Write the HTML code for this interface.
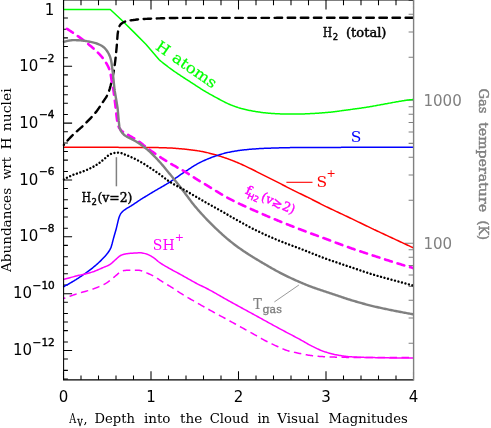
<!DOCTYPE html>
<html><head><meta charset="utf-8"><title>Abundances vs depth</title>
<style>
html,body{margin:0;padding:0;background:#fff;}
svg{display:block;}
text{font-family:"DejaVu Serif","Liberation Serif",serif;}
.d{font-family:"DejaVu Sans","Liberation Sans",sans-serif;}
</style></head><body>
<svg width="491" height="428" viewBox="0 0 491 428">
<rect width="491" height="428" fill="#fff"/>
<clipPath id="cp"><rect x="62.6" y="-0.05" width="351.0" height="379.90000000000003"/></clipPath>
<path d="M63.50 379.85 V371.35 M63.50 -0.05 V9.50 M81.00 379.85 V375.55 M81.00 -0.05 V5.30 M98.50 379.85 V375.55 M98.50 -0.05 V5.30 M116.00 379.85 V375.55 M116.00 -0.05 V5.30 M133.50 379.85 V375.55 M133.50 -0.05 V5.30 M151.00 379.85 V371.35 M151.00 -0.05 V9.50 M168.50 379.85 V375.55 M168.50 -0.05 V5.30 M186.00 379.85 V375.55 M186.00 -0.05 V5.30 M203.50 379.85 V375.55 M203.50 -0.05 V5.30 M221.00 379.85 V375.55 M221.00 -0.05 V5.30 M238.50 379.85 V371.35 M238.50 -0.05 V9.50 M256.00 379.85 V375.55 M256.00 -0.05 V5.30 M273.50 379.85 V375.55 M273.50 -0.05 V5.30 M291.00 379.85 V375.55 M291.00 -0.05 V5.30 M308.50 379.85 V375.55 M308.50 -0.05 V5.30 M326.00 379.85 V371.35 M326.00 -0.05 V9.50 M343.50 379.85 V375.55 M343.50 -0.05 V5.30 M361.00 379.85 V375.55 M361.00 -0.05 V5.30 M378.50 379.85 V375.55 M378.50 -0.05 V5.30 M396.00 379.85 V375.55 M396.00 -0.05 V5.30 M413.50 379.85 V371.35 M413.50 -0.05 V9.50 M63.6 9.45 H72.10 M63.6 18.01 H67.90 M63.6 29.31 H67.90 M63.6 37.87 H67.90 M63.6 46.43 H67.90 M63.6 57.73 H67.90 M63.6 66.29 H72.10 M63.6 74.85 H67.90 M63.6 86.15 H67.90 M63.6 94.71 H67.90 M63.6 103.27 H67.90 M63.6 114.57 H67.90 M63.6 123.13 H72.10 M63.6 131.69 H67.90 M63.6 142.99 H67.90 M63.6 151.55 H67.90 M63.6 160.11 H67.90 M63.6 171.41 H67.90 M63.6 179.97 H72.10 M63.6 188.53 H67.90 M63.6 199.83 H67.90 M63.6 208.39 H67.90 M63.6 216.95 H67.90 M63.6 228.25 H67.90 M63.6 236.81 H72.10 M63.6 245.37 H67.90 M63.6 256.67 H67.90 M63.6 265.23 H67.90 M63.6 273.79 H67.90 M63.6 285.09 H67.90 M63.6 293.65 H72.10 M63.6 302.21 H67.90 M63.6 313.51 H67.90 M63.6 322.07 H67.90 M63.6 330.63 H67.90 M63.6 341.93 H67.90 M63.6 350.49 H72.10 M63.6 359.05 H67.90 M63.6 370.35 H67.90 M63.6 378.91 H67.90" stroke="#000" stroke-width="1.05" fill="none"/>
<path d="M413.6 343.25 H408.60 M413.6 318.07 H408.60 M413.6 300.21 H408.60 M413.6 286.35 H408.60 M413.6 275.02 H408.60 M413.6 265.45 H408.60 M413.6 257.16 H408.60 M413.6 249.84 H408.60 M413.6 243.30 H404.40 M413.6 200.25 H408.60 M413.6 175.07 H408.60 M413.6 157.21 H408.60 M413.6 143.35 H408.60 M413.6 132.02 H408.60 M413.6 122.45 H408.60 M413.6 114.16 H408.60 M413.6 106.84 H408.60 M413.6 100.30 H404.40 M413.6 57.25 H408.60 M413.6 32.07 H408.60 M413.6 14.21 H408.60 M413.6 0.35 H408.60" stroke="#808080" stroke-width="1.05" fill="none"/>
<g clip-path="url(#cp)" fill="none" stroke-linejoin="round">
<path d="M63.00 9.45 L110.30 9.45 L120.50 19.00 L133.60 31.90 L145.90 44.20 L159.20 59.80 L159.20 59.80 L160.20 60.64 L161.20 61.46 L162.21 62.28 L163.21 63.09 L164.21 63.88 L165.21 64.67 L166.21 65.45 L167.22 66.22 L168.22 66.98 L169.22 67.73 L170.22 68.47 L170.40 68.60 L171.22 69.20 L172.23 69.91 L173.23 70.62 L174.23 71.31 L175.23 72.00 L176.23 72.68 L177.24 73.35 L178.24 74.02 L179.24 74.69 L180.00 75.20 L180.24 75.36 L181.24 76.03 L182.25 76.69 L183.25 77.35 L184.25 78.00 L185.25 78.65 L186.25 79.30 L187.26 79.95 L188.26 80.60 L189.26 81.24 L190.26 81.89 L191.26 82.53 L192.26 83.18 L192.30 83.20 L193.27 83.83 L194.27 84.48 L195.27 85.13 L196.27 85.79 L197.27 86.44 L198.28 87.09 L199.28 87.74 L200.28 88.38 L201.28 89.02 L202.28 89.65 L203.29 90.27 L204.29 90.87 L204.50 91.00 L205.29 91.47 L206.29 92.06 L207.29 92.64 L208.30 93.22 L209.30 93.79 L210.30 94.35 L211.30 94.91 L212.30 95.46 L213.31 96.01 L214.31 96.56 L215.31 97.10 L216.31 97.64 L216.80 97.90 L217.31 98.18 L218.32 98.72 L219.32 99.27 L220.32 99.81 L221.32 100.36 L222.32 100.90 L223.33 101.43 L224.33 101.95 L225.33 102.46 L226.33 102.95 L227.33 103.42 L228.34 103.87 L229.10 104.20 L229.34 104.30 L230.34 104.71 L231.34 105.11 L232.34 105.51 L233.35 105.89 L234.35 106.27 L235.35 106.63 L236.35 106.98 L237.35 107.31 L238.36 107.64 L239.36 107.94 L240.36 108.24 L241.30 108.50 L241.36 108.52 L242.36 108.78 L243.37 109.04 L244.37 109.29 L245.37 109.53 L246.37 109.76 L247.37 109.99 L248.38 110.20 L249.38 110.41 L250.38 110.61 L251.38 110.80 L252.38 110.99 L253.39 111.16 L253.60 111.20 L254.39 111.33 L255.39 111.50 L256.39 111.66 L257.39 111.82 L258.39 111.97 L259.40 112.11 L260.40 112.25 L261.40 112.39 L262.40 112.52 L263.40 112.64 L264.41 112.75 L265.41 112.85 L265.90 112.90 L266.41 112.95 L267.41 113.04 L268.41 113.13 L269.42 113.22 L270.42 113.31 L271.42 113.39 L272.42 113.47 L273.42 113.54 L274.43 113.61 L275.43 113.67 L276.43 113.72 L277.43 113.77 L278.20 113.80 L278.43 113.81 L279.44 113.85 L280.44 113.88 L281.44 113.92 L282.44 113.95 L283.44 113.98 L284.45 114.01 L285.45 114.04 L286.45 114.06 L287.45 114.08 L288.45 114.09 L289.46 114.10 L290.40 114.10 L290.46 114.10 L291.46 114.10 L292.46 114.09 L293.46 114.09 L294.47 114.08 L295.47 114.07 L296.47 114.05 L297.47 114.04 L298.47 114.02 L299.48 114.01 L300.00 114.00 L300.48 113.99 L301.48 113.97 L302.48 113.95 L303.48 113.92 L304.49 113.89 L305.49 113.85 L306.49 113.81 L307.49 113.77 L308.49 113.72 L309.50 113.68 L310.50 113.62 L311.50 113.57 L312.50 113.51 L313.50 113.45 L314.51 113.39 L315.51 113.33 L316.51 113.27 L317.51 113.20 L318.51 113.13 L319.51 113.06 L320.52 112.99 L321.52 112.92 L322.52 112.85 L323.52 112.77 L324.50 112.70 L324.52 112.70 L325.53 112.62 L326.53 112.54 L327.53 112.45 L328.53 112.35 L329.53 112.25 L330.54 112.14 L331.54 112.03 L332.54 111.91 L333.54 111.79 L334.54 111.67 L335.55 111.54 L336.55 111.41 L337.55 111.27 L338.55 111.14 L339.55 111.00 L340.56 110.87 L341.56 110.73 L342.56 110.59 L343.56 110.45 L344.56 110.31 L345.57 110.17 L346.57 110.04 L347.57 109.90 L348.57 109.77 L349.10 109.70 L349.57 109.64 L350.58 109.51 L351.58 109.38 L352.58 109.24 L353.58 109.11 L354.58 108.98 L355.59 108.84 L356.59 108.71 L357.59 108.57 L358.59 108.43 L359.59 108.29 L360.60 108.15 L361.60 108.01 L362.60 107.86 L363.60 107.71 L364.60 107.56 L365.61 107.41 L366.30 107.30 L366.61 107.25 L367.61 107.09 L368.61 106.93 L369.61 106.76 L370.62 106.59 L371.62 106.41 L372.62 106.23 L373.62 106.05 L374.62 105.87 L375.63 105.69 L376.63 105.50 L377.63 105.31 L378.63 105.13 L379.63 104.94 L380.64 104.76 L381.64 104.57 L382.64 104.39 L383.64 104.20 L384.64 104.02 L385.64 103.84 L385.90 103.80 L386.65 103.67 L387.65 103.49 L388.65 103.31 L389.65 103.12 L390.65 102.94 L391.66 102.75 L392.66 102.57 L393.66 102.38 L394.66 102.20 L395.66 102.02 L396.67 101.84 L397.67 101.66 L398.67 101.48 L399.67 101.31 L400.67 101.14 L401.68 100.98 L402.68 100.82 L403.68 100.66 L404.68 100.52 L405.50 100.40 L405.68 100.37 L406.69 100.24 L407.69 100.11 L408.69 99.98 L409.69 99.85 L410.69 99.74 L411.70 99.62 L412.70 99.51 L413.70 99.40" stroke="#00ff00" stroke-width="1.5"/>
<path d="M63.00 147.30 L64.00 147.30 L65.00 147.30 L66.01 147.30 L67.01 147.30 L68.01 147.30 L69.01 147.30 L70.01 147.30 L71.02 147.30 L72.02 147.30 L73.02 147.30 L74.02 147.30 L75.02 147.30 L76.03 147.30 L77.03 147.30 L78.03 147.30 L79.03 147.31 L80.03 147.31 L81.04 147.31 L82.04 147.31 L83.04 147.31 L84.04 147.31 L85.04 147.31 L86.05 147.31 L87.05 147.31 L88.05 147.31 L89.05 147.32 L90.05 147.32 L91.06 147.32 L92.06 147.32 L93.06 147.32 L94.06 147.32 L95.06 147.32 L96.07 147.33 L97.07 147.33 L98.07 147.33 L99.07 147.33 L100.07 147.33 L101.08 147.33 L102.08 147.34 L103.08 147.34 L104.08 147.34 L105.08 147.34 L106.09 147.34 L107.09 147.35 L108.09 147.35 L109.09 147.35 L110.09 147.35 L111.10 147.36 L112.10 147.36 L113.10 147.36 L114.10 147.36 L115.10 147.37 L116.11 147.37 L117.11 147.37 L118.11 147.37 L119.11 147.38 L120.11 147.38 L121.12 147.38 L122.12 147.39 L123.12 147.39 L124.12 147.39 L125.12 147.40 L126.13 147.40 L127.13 147.40 L128.13 147.41 L129.13 147.41 L130.13 147.41 L131.14 147.42 L132.14 147.42 L133.14 147.42 L134.14 147.43 L135.14 147.43 L136.15 147.44 L137.15 147.44 L138.15 147.44 L139.15 147.45 L140.15 147.45 L141.16 147.46 L142.16 147.46 L143.16 147.47 L144.16 147.47 L145.16 147.48 L146.17 147.48 L147.17 147.49 L148.17 147.49 L149.17 147.50 L150.00 147.50 L150.17 147.50 L151.18 147.51 L152.18 147.52 L153.18 147.53 L154.18 147.54 L155.18 147.56 L156.19 147.58 L157.19 147.60 L158.19 147.62 L159.19 147.64 L160.19 147.67 L161.20 147.70 L162.20 147.73 L163.20 147.76 L164.20 147.79 L165.20 147.82 L166.21 147.86 L167.21 147.89 L168.21 147.93 L169.21 147.97 L170.00 148.00 L170.21 148.01 L171.22 148.05 L172.22 148.11 L173.22 148.17 L174.22 148.23 L175.22 148.30 L176.23 148.38 L177.23 148.46 L178.23 148.55 L179.23 148.64 L180.23 148.73 L181.24 148.83 L182.24 148.93 L183.24 149.02 L184.24 149.12 L185.00 149.20 L185.24 149.22 L186.25 149.33 L187.25 149.43 L188.25 149.54 L189.25 149.66 L190.25 149.77 L191.26 149.90 L192.26 150.02 L193.26 150.15 L194.26 150.29 L195.26 150.43 L196.27 150.57 L197.27 150.72 L198.27 150.88 L199.27 151.04 L200.27 151.21 L201.28 151.38 L201.40 151.40 L202.28 151.56 L203.28 151.75 L204.28 151.96 L205.28 152.18 L206.29 152.40 L207.29 152.64 L208.29 152.89 L209.29 153.15 L210.29 153.41 L211.30 153.68 L212.30 153.95 L213.30 154.23 L214.30 154.52 L215.30 154.80 L216.31 155.09 L217.31 155.39 L217.70 155.50 L218.31 155.68 L219.31 155.98 L220.31 156.29 L221.32 156.61 L222.32 156.93 L223.32 157.26 L224.32 157.60 L225.32 157.94 L226.33 158.29 L227.33 158.65 L228.33 159.01 L229.33 159.38 L230.33 159.75 L231.34 160.13 L232.34 160.51 L233.34 160.90 L234.10 161.20 L234.34 161.30 L235.34 161.70 L236.35 162.11 L237.35 162.53 L238.35 162.96 L239.35 163.40 L240.35 163.84 L241.36 164.29 L242.36 164.75 L243.36 165.21 L244.36 165.68 L245.36 166.15 L246.37 166.62 L247.37 167.10 L248.37 167.58 L249.37 168.06 L250.37 168.54 L250.50 168.60 L251.38 169.02 L252.38 169.52 L253.38 170.02 L254.38 170.53 L255.38 171.04 L256.39 171.56 L257.39 172.07 L258.39 172.58 L259.39 173.09 L260.00 173.40 L260.39 173.60 L261.40 174.10 L262.40 174.60 L263.40 175.10 L264.40 175.60 L265.40 176.10 L266.41 176.60 L267.41 177.10 L268.41 177.59 L269.41 178.09 L270.41 178.59 L271.42 179.09 L272.42 179.59 L273.42 180.10 L274.42 180.60 L275.42 181.11 L276.40 181.60 L276.43 181.61 L277.43 182.12 L278.43 182.64 L279.43 183.15 L280.43 183.67 L281.44 184.19 L282.44 184.71 L283.44 185.23 L284.44 185.76 L285.44 186.28 L286.45 186.80 L287.45 187.32 L288.45 187.84 L289.45 188.35 L290.45 188.86 L291.46 189.37 L292.46 189.88 L292.70 190.00 L293.46 190.38 L294.46 190.88 L295.46 191.37 L296.47 191.86 L297.47 192.35 L298.47 192.84 L299.47 193.32 L300.47 193.80 L301.48 194.29 L302.48 194.77 L303.48 195.25 L304.48 195.74 L305.48 196.22 L306.49 196.71 L307.49 197.20 L308.49 197.70 L309.10 198.00 L309.49 198.20 L310.49 198.70 L311.50 199.20 L312.50 199.71 L313.50 200.22 L314.50 200.73 L315.50 201.24 L316.51 201.76 L317.51 202.27 L318.51 202.78 L319.51 203.29 L320.51 203.81 L321.52 204.31 L322.52 204.82 L323.52 205.32 L324.52 205.82 L325.50 206.30 L325.52 206.31 L326.53 206.80 L327.53 207.29 L328.53 207.77 L329.53 208.25 L330.53 208.73 L331.54 209.20 L332.54 209.68 L333.54 210.15 L334.54 210.62 L335.54 211.10 L336.55 211.57 L337.55 212.04 L338.55 212.51 L339.55 212.99 L340.00 213.20 L340.55 213.46 L341.56 213.94 L342.56 214.41 L343.56 214.88 L344.56 215.35 L345.56 215.83 L346.57 216.30 L347.57 216.77 L348.57 217.25 L349.10 217.50 L349.57 217.72 L350.57 218.20 L351.58 218.68 L352.58 219.16 L353.58 219.65 L354.58 220.13 L355.58 220.61 L356.59 221.10 L357.59 221.58 L358.59 222.07 L359.59 222.55 L360.59 223.04 L361.60 223.53 L362.60 224.01 L363.60 224.50 L364.60 224.98 L365.60 225.47 L366.61 225.95 L367.61 226.43 L368.61 226.92 L369.61 227.40 L370.61 227.88 L371.62 228.36 L372.62 228.83 L373.60 229.30 L373.62 229.31 L374.62 229.78 L375.62 230.26 L376.63 230.73 L377.63 231.20 L378.63 231.67 L379.63 232.15 L380.63 232.62 L381.64 233.08 L382.64 233.55 L383.64 234.02 L384.64 234.49 L385.64 234.96 L386.65 235.42 L387.65 235.89 L388.65 236.36 L389.65 236.82 L390.65 237.29 L391.66 237.76 L392.66 238.22 L393.66 238.69 L394.66 239.15 L395.66 239.62 L396.67 240.09 L397.67 240.55 L398.20 240.80 L398.67 241.02 L399.67 241.49 L400.67 241.95 L401.68 242.42 L402.68 242.88 L403.68 243.35 L404.68 243.82 L405.68 244.28 L406.69 244.75 L407.69 245.21 L408.69 245.68 L409.69 246.14 L410.69 246.61 L411.70 247.07 L412.70 247.54 L413.70 248.00" stroke="#ff0000" stroke-width="1.5"/>
<path d="M63.00 287.00 L64.00 286.48 L65.00 285.95 L66.01 285.41 L67.01 284.86 L68.01 284.30 L69.01 283.74 L70.01 283.16 L71.02 282.58 L72.02 281.99 L73.02 281.39 L74.02 280.78 L75.02 280.16 L76.03 279.54 L76.40 279.30 L77.03 278.90 L78.03 278.26 L79.03 277.62 L80.03 276.96 L81.04 276.30 L82.04 275.63 L83.04 274.94 L84.04 274.25 L85.04 273.55 L86.05 272.84 L87.05 272.12 L88.05 271.38 L89.05 270.63 L90.05 269.87 L91.06 269.10 L92.06 268.31 L92.70 267.80 L93.06 267.51 L94.06 266.69 L95.06 265.85 L96.07 265.00 L97.07 264.12 L98.07 263.22 L99.07 262.29 L100.07 261.34 L101.08 260.35 L102.08 259.34 L102.60 258.80 L103.08 258.30 L104.08 257.24 L105.08 256.15 L106.09 255.00 L107.09 253.78 L108.09 252.46 L109.09 251.01 L109.10 251.00 L110.09 249.38 L110.90 247.70 L111.10 247.19 L112.10 243.76 L113.10 239.83 L113.30 239.10 L114.10 236.29 L115.10 232.81 L116.11 229.21 L116.40 228.10 L117.11 225.18 L118.11 220.86 L118.80 218.30 L119.11 217.30 L120.10 214.70 L120.11 214.67 L121.12 213.13 L122.12 211.98 L122.50 211.60 L123.12 211.03 L124.12 210.23 L125.12 209.53 L125.60 209.20 L126.13 208.85 L127.13 208.21 L128.13 207.61 L129.13 207.03 L130.13 206.45 L131.14 205.85 L131.70 205.50 L132.14 205.22 L133.14 204.56 L134.14 203.88 L135.14 203.20 L136.15 202.51 L137.15 201.83 L138.15 201.16 L139.00 200.60 L139.15 200.50 L140.15 199.86 L141.16 199.23 L142.16 198.60 L143.16 197.98 L144.16 197.36 L145.16 196.75 L146.17 196.14 L147.17 195.53 L148.17 194.93 L149.17 194.32 L150.17 193.72 L151.18 193.12 L152.18 192.51 L152.70 192.20 L153.18 191.91 L154.18 191.31 L155.18 190.72 L156.19 190.14 L157.19 189.56 L158.19 188.97 L159.19 188.40 L160.19 187.82 L161.20 187.24 L162.20 186.66 L163.20 186.07 L164.20 185.48 L165.20 184.89 L166.21 184.29 L167.21 183.68 L168.21 183.06 L169.10 182.50 L169.21 182.43 L170.21 181.79 L171.22 181.13 L172.22 180.47 L173.22 179.79 L174.22 179.11 L175.22 178.42 L176.23 177.72 L177.23 177.02 L178.23 176.33 L179.23 175.63 L180.23 174.93 L181.24 174.24 L182.24 173.56 L183.24 172.89 L184.24 172.22 L185.24 171.57 L185.50 171.40 L186.25 170.92 L187.25 170.27 L188.25 169.61 L189.25 168.95 L190.25 168.29 L191.26 167.64 L192.26 166.99 L193.26 166.36 L194.26 165.73 L195.26 165.12 L196.27 164.53 L197.27 163.95 L198.27 163.40 L199.27 162.87 L200.00 162.50 L200.27 162.36 L201.28 161.88 L202.28 161.40 L203.28 160.93 L204.28 160.47 L205.28 160.03 L206.29 159.59 L207.29 159.16 L208.29 158.74 L209.29 158.34 L210.29 157.94 L211.30 157.55 L212.30 157.17 L213.30 156.81 L214.30 156.45 L215.30 156.10 L216.31 155.76 L216.80 155.60 L217.31 155.43 L218.31 155.11 L219.31 154.80 L220.31 154.49 L221.32 154.19 L222.32 153.89 L223.32 153.61 L224.32 153.34 L225.32 153.07 L226.33 152.82 L227.33 152.59 L228.33 152.36 L229.10 152.20 L229.33 152.15 L230.33 151.95 L231.34 151.76 L232.34 151.57 L233.34 151.39 L234.34 151.22 L235.34 151.05 L236.35 150.89 L237.35 150.74 L238.35 150.59 L239.35 150.45 L240.35 150.32 L241.30 150.20 L241.36 150.19 L242.36 150.07 L243.36 149.96 L244.36 149.84 L245.36 149.74 L246.37 149.63 L247.37 149.53 L248.37 149.43 L249.37 149.34 L250.37 149.25 L251.38 149.17 L252.38 149.09 L253.38 149.02 L253.60 149.00 L254.38 148.94 L255.38 148.88 L256.39 148.81 L257.39 148.74 L258.39 148.68 L259.39 148.62 L260.39 148.57 L261.40 148.51 L262.40 148.46 L263.40 148.41 L264.40 148.36 L265.40 148.32 L265.90 148.30 L266.41 148.28 L267.41 148.24 L268.41 148.20 L269.41 148.16 L270.41 148.13 L271.42 148.09 L272.42 148.06 L273.42 148.03 L274.42 148.00 L275.42 147.97 L276.43 147.94 L277.43 147.92 L278.20 147.90 L278.43 147.89 L279.43 147.87 L280.43 147.85 L281.44 147.82 L282.44 147.80 L283.44 147.77 L284.44 147.75 L285.44 147.73 L286.45 147.70 L287.45 147.68 L288.45 147.66 L289.45 147.64 L290.45 147.62 L291.46 147.60 L292.46 147.58 L293.46 147.57 L294.46 147.55 L295.46 147.54 L296.47 147.53 L297.47 147.52 L298.47 147.51 L299.47 147.50 L300.00 147.50 L300.47 147.50 L301.48 147.49 L302.48 147.49 L303.48 147.49 L304.48 147.48 L305.48 147.48 L306.49 147.48 L307.49 147.47 L308.49 147.47 L309.49 147.46 L310.49 147.46 L311.50 147.46 L312.50 147.45 L313.50 147.45 L314.50 147.45 L315.50 147.44 L316.51 147.44 L317.51 147.44 L318.51 147.43 L319.51 147.43 L320.51 147.43 L321.52 147.43 L322.52 147.42 L323.52 147.42 L324.52 147.42 L325.52 147.41 L326.53 147.41 L327.53 147.41 L328.53 147.41 L329.53 147.40 L330.53 147.40 L331.54 147.40 L332.54 147.39 L333.54 147.39 L334.54 147.39 L335.54 147.39 L336.55 147.38 L337.55 147.38 L338.55 147.38 L339.55 147.38 L340.55 147.38 L341.56 147.37 L342.56 147.37 L343.56 147.37 L344.56 147.37 L345.56 147.36 L346.57 147.36 L347.57 147.36 L348.57 147.36 L349.57 147.36 L350.57 147.35 L351.58 147.35 L352.58 147.35 L353.58 147.35 L354.58 147.35 L355.58 147.35 L356.59 147.34 L357.59 147.34 L358.59 147.34 L359.59 147.34 L360.59 147.34 L361.60 147.34 L362.60 147.33 L363.60 147.33 L364.60 147.33 L365.60 147.33 L366.61 147.33 L367.61 147.33 L368.61 147.33 L369.61 147.33 L370.61 147.32 L371.62 147.32 L372.62 147.32 L373.62 147.32 L374.62 147.32 L375.62 147.32 L376.63 147.32 L377.63 147.32 L378.63 147.32 L379.63 147.31 L380.63 147.31 L381.64 147.31 L382.64 147.31 L383.64 147.31 L384.64 147.31 L385.64 147.31 L386.65 147.31 L387.65 147.31 L388.65 147.31 L389.65 147.31 L390.65 147.31 L391.66 147.31 L392.66 147.31 L393.66 147.30 L394.66 147.30 L395.66 147.30 L396.67 147.30 L397.67 147.30 L398.67 147.30 L399.67 147.30 L400.67 147.30 L401.68 147.30 L402.68 147.30 L403.68 147.30 L404.68 147.30 L405.68 147.30 L406.69 147.30 L407.69 147.30 L408.69 147.30 L409.69 147.30 L410.69 147.30 L411.70 147.30 L412.70 147.30 L413.70 147.30" stroke="#0000ff" stroke-width="1.5"/>
<path d="M63.00 279.50 L64.00 279.23 L65.00 278.97 L66.01 278.70 L67.01 278.44 L68.01 278.18 L69.01 277.91 L70.01 277.65 L71.02 277.39 L72.02 277.13 L73.02 276.87 L74.02 276.61 L75.02 276.35 L76.03 276.10 L76.40 276.00 L77.03 275.84 L78.03 275.59 L79.03 275.35 L80.03 275.12 L81.04 274.89 L82.04 274.66 L83.04 274.43 L84.04 274.20 L85.04 273.96 L86.05 273.72 L87.05 273.48 L88.05 273.23 L89.05 272.96 L90.05 272.69 L91.06 272.40 L92.06 272.10 L92.70 271.90 L93.06 271.78 L94.06 271.44 L95.06 271.06 L96.07 270.66 L97.07 270.24 L98.07 269.81 L99.07 269.37 L100.07 268.92 L101.08 268.47 L102.08 268.03 L102.60 267.80 L103.08 267.60 L104.08 267.18 L105.08 266.78 L106.09 266.37 L107.09 265.94 L108.09 265.48 L109.09 264.96 L109.90 264.50 L110.09 264.38 L111.10 263.66 L112.10 262.81 L113.10 261.89 L114.10 260.95 L115.10 260.03 L115.60 259.60 L116.11 259.16 L117.11 258.24 L118.11 257.31 L119.11 256.45 L120.11 255.76 L120.60 255.50 L121.12 255.27 L122.12 254.85 L123.12 254.49 L124.12 254.19 L125.12 253.97 L125.50 253.90 L126.13 253.80 L127.13 253.67 L128.13 253.55 L129.13 253.44 L130.13 253.35 L131.14 253.27 L132.14 253.20 L133.14 253.13 L133.60 253.10 L134.14 253.07 L135.14 253.00 L136.15 252.94 L137.15 252.88 L138.15 252.84 L139.15 252.81 L140.00 252.80 L140.15 252.80 L141.16 252.85 L142.16 252.98 L143.16 253.16 L144.16 253.38 L145.16 253.62 L145.90 253.80 L146.17 253.87 L147.17 254.19 L148.17 254.60 L149.17 255.08 L150.17 255.62 L151.18 256.20 L152.18 256.81 L153.18 257.43 L153.30 257.50 L154.18 258.10 L155.18 258.89 L156.19 259.75 L157.19 260.63 L158.19 261.48 L159.19 262.25 L159.40 262.40 L160.19 262.94 L161.20 263.61 L162.20 264.25 L163.20 264.86 L164.20 265.47 L165.20 266.05 L166.21 266.63 L167.21 267.20 L168.21 267.76 L169.21 268.33 L170.21 268.89 L170.40 269.00 L171.22 269.46 L172.22 270.02 L173.22 270.56 L174.22 271.10 L175.22 271.64 L176.23 272.17 L177.23 272.71 L178.23 273.24 L179.23 273.78 L180.00 274.20 L180.23 274.33 L181.24 274.88 L182.24 275.44 L183.24 276.00 L184.24 276.56 L185.24 277.13 L186.25 277.70 L187.25 278.27 L188.25 278.84 L189.25 279.40 L190.25 279.97 L191.26 280.53 L192.26 281.09 L193.26 281.65 L194.26 282.20 L195.26 282.74 L196.27 283.28 L197.27 283.81 L198.27 284.33 L199.27 284.84 L199.60 285.00 L200.27 285.33 L201.28 285.80 L202.28 286.25 L203.28 286.71 L204.28 287.19 L204.50 287.30 L205.28 287.69 L206.29 288.21 L207.29 288.73 L208.29 289.26 L209.29 289.80 L210.29 290.34 L211.30 290.89 L212.30 291.44 L213.30 292.00 L214.30 292.57 L215.30 293.14 L216.31 293.71 L217.31 294.28 L218.31 294.86 L219.31 295.43 L220.31 296.01 L221.32 296.59 L222.32 297.16 L223.32 297.74 L224.32 298.31 L225.32 298.88 L226.33 299.45 L227.33 300.01 L228.33 300.57 L229.10 301.00 L229.33 301.13 L230.33 301.68 L231.34 302.23 L232.34 302.78 L233.34 303.33 L234.34 303.88 L235.34 304.43 L236.35 304.98 L237.35 305.53 L238.35 306.07 L239.35 306.62 L240.35 307.17 L241.36 307.72 L242.36 308.26 L243.36 308.81 L244.36 309.35 L245.36 309.90 L246.37 310.45 L247.37 310.99 L248.37 311.54 L249.37 312.09 L250.37 312.64 L251.38 313.18 L252.38 313.73 L253.38 314.28 L253.60 314.40 L254.38 314.83 L255.38 315.38 L256.39 315.93 L257.39 316.48 L258.39 317.03 L259.39 317.58 L260.39 318.14 L261.40 318.69 L262.40 319.24 L263.40 319.80 L264.40 320.35 L265.40 320.90 L266.41 321.45 L267.41 322.00 L268.41 322.56 L269.41 323.11 L270.41 323.66 L271.42 324.21 L272.42 324.76 L273.42 325.30 L274.42 325.85 L275.42 326.40 L276.43 326.94 L277.43 327.48 L278.20 327.90 L278.43 328.02 L279.43 328.56 L280.43 329.10 L281.44 329.64 L282.44 330.17 L283.44 330.70 L284.44 331.23 L285.44 331.76 L286.45 332.29 L287.45 332.82 L288.45 333.35 L289.45 333.88 L290.45 334.41 L291.46 334.93 L292.46 335.46 L293.46 336.00 L294.46 336.53 L295.46 337.06 L296.47 337.60 L297.47 338.13 L298.47 338.67 L299.47 339.21 L300.00 339.50 L300.47 339.76 L301.48 340.31 L302.48 340.88 L303.48 341.45 L304.48 342.02 L305.48 342.60 L306.49 343.17 L307.49 343.74 L308.49 344.30 L309.49 344.85 L310.49 345.38 L311.50 345.90 L312.30 346.30 L312.50 346.40 L313.50 346.89 L314.50 347.38 L315.50 347.87 L316.51 348.36 L317.51 348.84 L318.51 349.30 L319.51 349.75 L320.51 350.19 L321.52 350.60 L322.52 351.00 L323.52 351.36 L324.50 351.70 L324.52 351.71 L325.52 352.03 L326.53 352.34 L327.53 352.65 L328.53 352.94 L329.53 353.22 L330.53 353.49 L331.54 353.74 L332.54 353.99 L333.54 354.22 L334.54 354.45 L335.54 354.65 L336.55 354.85 L336.80 354.90 L337.55 355.04 L338.55 355.23 L339.55 355.41 L340.55 355.59 L341.56 355.76 L342.56 355.93 L343.56 356.09 L344.56 356.23 L345.56 356.36 L346.57 356.48 L347.57 356.58 L348.57 356.66 L349.10 356.70 L349.57 356.73 L350.57 356.79 L351.58 356.85 L352.58 356.90 L353.58 356.95 L354.58 357.00 L355.58 357.05 L356.59 357.10 L357.59 357.14 L358.59 357.18 L359.59 357.22 L360.59 357.26 L361.60 357.29 L362.60 357.32 L363.60 357.36 L364.60 357.39 L365.60 357.42 L366.61 357.44 L367.61 357.47 L368.61 357.49 L369.61 357.52 L370.61 357.54 L371.62 357.56 L372.62 357.58 L373.60 357.60 L373.62 357.60 L374.62 357.62 L375.62 357.64 L376.63 357.66 L377.63 357.68 L378.63 357.70 L379.63 357.71 L380.63 357.73 L381.64 357.75 L382.64 357.77 L383.64 357.79 L384.64 357.81 L385.64 357.82 L386.65 357.84 L387.65 357.86 L388.65 357.87 L389.65 357.89 L390.65 357.90 L391.66 357.92 L392.66 357.93 L393.66 357.95 L394.66 357.96 L395.66 357.97 L396.67 357.99 L397.67 358.00 L398.67 358.01 L399.67 358.02 L400.67 358.03 L401.68 358.04 L402.68 358.05 L403.68 358.06 L404.68 358.07 L405.68 358.07 L406.69 358.08 L407.69 358.08 L408.69 358.09 L409.69 358.09 L410.69 358.10 L411.70 358.10 L412.70 358.10 L413.70 358.10" stroke="#ff00ff" stroke-width="1.5"/>
<path d="M63.00 298.80 L64.00 298.42 L65.00 298.04 L66.01 297.66 L67.01 297.29 L68.01 296.92 L69.01 296.55 L70.01 296.19 L71.02 295.84 L72.02 295.48 L73.02 295.14 L74.02 294.79 L75.02 294.46 L76.03 294.12 L76.40 294.00 L77.03 293.80 L78.03 293.48 L79.03 293.18 L80.03 292.88 L81.04 292.60 L82.04 292.31 L83.04 292.03 L84.04 291.75 L85.04 291.47 L86.05 291.19 L87.05 290.90 L88.05 290.61 L89.05 290.31 L90.05 289.99 L91.06 289.67 L92.06 289.33 L92.70 289.10 L93.06 288.97 L94.06 288.61 L95.06 288.24 L96.07 287.86 L97.07 287.48 L98.07 287.08 L99.07 286.66 L100.07 286.24 L101.08 285.79 L102.08 285.33 L103.08 284.84 L104.08 284.33 L105.08 283.80 L105.80 283.40 L106.09 283.23 L107.09 282.60 L108.09 281.90 L109.09 281.14 L110.09 280.35 L111.10 279.54 L112.10 278.74 L112.40 278.50 L113.10 277.94 L114.10 277.10 L115.10 276.25 L116.11 275.40 L117.11 274.56 L117.30 274.40 L118.11 273.67 L119.11 272.68 L120.11 271.79 L121.12 271.19 L121.40 271.10 L122.12 270.93 L123.12 270.72 L124.12 270.55 L125.12 270.43 L126.13 270.34 L127.10 270.30 L127.13 270.30 L128.13 270.28 L129.13 270.27 L130.13 270.25 L131.14 270.24 L132.14 270.23 L133.14 270.22 L134.14 270.21 L135.14 270.21 L136.15 270.20 L137.15 270.20 L138.15 270.20 L138.50 270.20 L139.15 270.23 L140.15 270.40 L141.16 270.67 L142.16 271.03 L143.16 271.44 L144.16 271.88 L145.16 272.31 L145.90 272.60 L146.17 272.70 L147.17 273.10 L148.17 273.52 L149.17 273.97 L150.17 274.43 L151.18 274.92 L152.18 275.42 L153.18 275.94 L153.30 276.00 L154.18 276.48 L155.18 277.07 L156.19 277.69 L157.19 278.33 L158.19 278.98 L159.19 279.65 L160.19 280.32 L161.20 280.98 L162.20 281.63 L163.10 282.20 L163.20 282.26 L164.20 282.87 L165.20 283.48 L166.21 284.07 L167.21 284.66 L168.21 285.26 L169.21 285.85 L170.21 286.45 L171.22 287.05 L172.22 287.67 L172.90 288.10 L173.22 288.30 L174.22 288.96 L175.22 289.62 L176.23 290.30 L177.23 290.98 L178.23 291.65 L179.23 292.31 L180.00 292.80 L180.23 292.95 L181.24 293.57 L182.24 294.19 L183.24 294.80 L184.24 295.41 L185.24 296.02 L186.25 296.62 L187.25 297.22 L188.25 297.81 L189.25 298.40 L190.25 298.98 L191.26 299.56 L192.26 300.14 L193.26 300.72 L194.26 301.30 L195.26 301.87 L196.27 302.44 L197.27 303.01 L198.27 303.58 L199.27 304.15 L200.27 304.71 L201.28 305.28 L202.28 305.84 L203.28 306.41 L204.28 306.98 L204.50 307.10 L205.28 307.54 L206.29 308.11 L207.29 308.67 L208.29 309.23 L209.29 309.78 L210.29 310.34 L211.30 310.89 L212.30 311.44 L213.30 311.99 L214.30 312.54 L215.30 313.08 L216.31 313.63 L217.31 314.18 L218.31 314.72 L219.31 315.26 L220.31 315.81 L221.32 316.35 L222.32 316.90 L223.32 317.44 L224.32 317.99 L225.32 318.53 L226.33 319.08 L227.33 319.63 L228.33 320.18 L229.10 320.60 L229.33 320.73 L230.33 321.28 L231.34 321.83 L232.34 322.38 L233.34 322.93 L234.34 323.48 L235.34 324.03 L236.35 324.58 L237.35 325.13 L238.35 325.68 L239.35 326.23 L240.35 326.78 L241.36 327.33 L242.36 327.88 L243.36 328.44 L244.36 328.99 L245.36 329.54 L246.37 330.09 L247.37 330.65 L248.37 331.20 L249.37 331.75 L250.37 332.31 L251.38 332.86 L252.38 333.42 L253.38 333.98 L253.60 334.10 L254.38 334.54 L255.38 335.11 L256.39 335.68 L257.39 336.26 L258.39 336.83 L259.39 337.41 L260.39 337.99 L261.40 338.56 L262.40 339.12 L263.40 339.67 L264.40 340.22 L265.40 340.74 L265.90 341.00 L266.41 341.26 L267.41 341.76 L268.41 342.26 L269.41 342.75 L270.41 343.24 L271.42 343.72 L272.42 344.19 L273.42 344.66 L274.42 345.12 L275.42 345.57 L276.43 346.02 L277.43 346.46 L278.20 346.80 L278.43 346.90 L279.43 347.35 L280.43 347.79 L281.44 348.24 L282.44 348.69 L283.44 349.12 L284.44 349.54 L285.44 349.93 L286.45 350.30 L287.45 350.63 L288.00 350.80 L288.45 350.93 L289.45 351.21 L290.45 351.47 L291.46 351.71 L292.46 351.95 L293.46 352.17 L294.46 352.39 L295.46 352.60 L296.47 352.80 L297.47 353.00 L298.47 353.20 L299.47 353.40 L300.00 353.50 L300.47 353.59 L301.48 353.80 L302.48 354.00 L303.48 354.21 L304.48 354.41 L305.48 354.61 L306.49 354.80 L307.49 354.98 L308.49 355.16 L309.49 355.32 L310.49 355.47 L311.50 355.60 L312.30 355.70 L312.50 355.72 L313.50 355.83 L314.50 355.94 L315.50 356.04 L316.51 356.14 L317.51 356.23 L318.51 356.31 L319.51 356.39 L320.51 356.47 L321.52 356.54 L322.52 356.60 L323.52 356.65 L324.50 356.70 L324.52 356.70 L325.52 356.75 L326.53 356.79 L327.53 356.83 L328.53 356.87 L329.53 356.91 L330.53 356.95 L331.54 356.99 L332.54 357.03 L333.54 357.06 L334.54 357.10 L335.54 357.13 L336.55 357.16 L337.55 357.19 L338.55 357.22 L339.55 357.24 L340.55 357.27 L341.56 357.29 L342.56 357.31 L343.56 357.33 L344.56 357.35 L345.56 357.36 L346.57 357.38 L347.57 357.39 L348.57 357.40 L349.10 357.40 L349.57 357.40 L350.57 357.41 L351.58 357.42 L352.58 357.42 L353.58 357.43 L354.58 357.43 L355.58 357.44 L356.59 357.44 L357.59 357.45 L358.59 357.46 L359.59 357.46 L360.59 357.47 L361.60 357.47 L362.60 357.48 L363.60 357.48 L364.60 357.49 L365.60 357.49 L366.61 357.50 L367.61 357.50 L368.61 357.50 L369.61 357.51 L370.61 357.51 L371.62 357.52 L372.62 357.52 L373.62 357.52 L374.62 357.53 L375.62 357.53 L376.63 357.54 L377.63 357.54 L378.63 357.54 L379.63 357.55 L380.63 357.55 L381.64 357.55 L382.64 357.55 L383.64 357.56 L384.64 357.56 L385.64 357.56 L386.65 357.57 L387.65 357.57 L388.65 357.57 L389.65 357.57 L390.65 357.58 L391.66 357.58 L392.66 357.58 L393.66 357.58 L394.66 357.58 L395.66 357.58 L396.67 357.59 L397.67 357.59 L398.67 357.59 L399.67 357.59 L400.67 357.59 L401.68 357.59 L402.68 357.59 L403.68 357.60 L404.68 357.60 L405.68 357.60 L406.69 357.60 L407.69 357.60 L408.69 357.60 L409.69 357.60 L410.69 357.60 L411.70 357.60 L412.70 357.60 L413.70 357.60" stroke="#ff00ff" stroke-width="1.5" stroke-dasharray="7.5 4.5" stroke-dashoffset="5"/>
<path d="M63.70 145.00 L64.70 143.82 L65.70 142.66 L66.70 141.51 L67.70 140.39 L68.70 139.28 L69.70 138.20 L70.70 137.14 L71.70 136.11 L72.30 135.50 L72.70 135.10 L73.70 134.14 L74.70 133.20 L75.70 132.30 L76.70 131.41 L77.70 130.54 L78.70 129.67 L79.70 128.80 L80.70 127.93 L81.70 127.04 L82.70 126.12 L83.70 125.18 L84.50 124.40 L84.70 124.20 L85.70 123.21 L86.70 122.21 L87.70 121.20 L88.70 120.18 L89.70 119.14 L90.70 118.08 L91.70 117.00 L92.70 115.89 L93.70 114.76 L94.70 113.58 L95.70 112.38 L96.70 111.13 L96.80 111.00 L97.70 109.81 L98.70 108.40 L99.70 106.93 L100.70 105.40 L101.70 103.86 L102.70 102.31 L102.90 102.00 L103.70 100.81 L104.70 99.38 L105.70 97.90 L106.70 96.29 L107.70 94.41 L107.90 94.00 L108.70 91.99 L109.10 90.80 L109.70 88.87 L110.70 85.27 L111.70 81.18 L112.70 76.59 L112.80 76.10 L113.70 71.33 L114.70 64.98 L115.20 61.30 L115.70 57.03 L116.70 46.54 L116.90 44.20 L117.60 34.60 L117.70 33.73 L118.20 30.50 L118.70 28.38 L119.70 25.60 L120.70 24.28 L121.70 23.41 L122.00 23.20 L122.70 22.74 L123.70 22.19 L124.70 21.75 L125.40 21.50 L125.70 21.41 L126.70 21.14 L127.70 20.91 L128.70 20.71 L129.70 20.53 L129.90 20.50 L130.70 20.38 L131.70 20.24 L132.70 20.12 L133.60 20.00 L133.70 19.99 L134.70 19.84 L135.70 19.70 L136.70 19.56 L137.70 19.44 L138.10 19.40 L138.70 19.35 L139.70 19.27 L140.70 19.20 L141.70 19.13 L142.70 19.07 L143.70 19.01 L144.70 18.96 L145.70 18.91 L145.90 18.90 L146.70 18.86 L147.70 18.81 L148.70 18.76 L149.70 18.72 L150.70 18.68 L151.70 18.63 L152.70 18.59 L153.70 18.55 L154.70 18.52 L155.70 18.48 L156.70 18.45 L157.70 18.42 L158.20 18.40 L158.70 18.38 L159.70 18.35 L160.70 18.32 L161.70 18.29 L162.70 18.26 L163.70 18.23 L164.70 18.20 L165.70 18.17 L166.70 18.14 L167.70 18.11 L168.70 18.08 L169.70 18.06 L170.70 18.03 L171.70 18.01 L172.70 17.99 L173.70 17.97 L174.70 17.95 L175.70 17.93 L176.70 17.92 L177.70 17.91 L178.70 17.90 L179.70 17.90 L180.00 17.90 L180.70 17.90 L181.70 17.90 L182.70 17.90 L183.70 17.90 L184.70 17.89 L185.70 17.89 L186.70 17.89 L187.70 17.89 L188.70 17.89 L189.70 17.89 L190.70 17.89 L191.70 17.89 L192.70 17.89 L193.70 17.89 L194.70 17.88 L195.70 17.88 L196.70 17.88 L197.70 17.88 L198.70 17.88 L199.70 17.88 L200.70 17.88 L201.70 17.88 L202.70 17.88 L203.70 17.88 L204.70 17.87 L205.70 17.87 L206.70 17.87 L207.70 17.87 L208.70 17.87 L209.70 17.87 L210.70 17.87 L211.70 17.87 L212.70 17.87 L213.70 17.87 L214.70 17.87 L215.70 17.86 L216.70 17.86 L217.70 17.86 L218.70 17.86 L219.70 17.86 L220.70 17.86 L221.70 17.86 L222.70 17.86 L223.70 17.86 L224.70 17.86 L225.70 17.86 L226.70 17.86 L227.70 17.85 L228.70 17.85 L229.70 17.85 L230.70 17.85 L231.70 17.85 L232.70 17.85 L233.70 17.85 L234.70 17.85 L235.70 17.85 L236.70 17.85 L237.70 17.85 L238.70 17.85 L239.70 17.85 L240.70 17.85 L241.70 17.84 L242.70 17.84 L243.70 17.84 L244.70 17.84 L245.70 17.84 L246.70 17.84 L247.70 17.84 L248.70 17.84 L249.70 17.84 L250.70 17.84 L251.70 17.84 L252.70 17.84 L253.70 17.84 L254.70 17.84 L255.70 17.84 L256.70 17.84 L257.70 17.83 L258.70 17.83 L259.70 17.83 L260.70 17.83 L261.70 17.83 L262.70 17.83 L263.70 17.83 L264.70 17.83 L265.70 17.83 L266.70 17.83 L267.70 17.83 L268.70 17.83 L269.70 17.83 L270.70 17.83 L271.70 17.83 L272.70 17.83 L273.70 17.83 L274.70 17.83 L275.70 17.83 L276.70 17.82 L277.70 17.82 L278.70 17.82 L279.70 17.82 L280.70 17.82 L281.70 17.82 L282.70 17.82 L283.70 17.82 L284.70 17.82 L285.70 17.82 L286.70 17.82 L287.70 17.82 L288.70 17.82 L289.70 17.82 L290.70 17.82 L291.70 17.82 L292.70 17.82 L293.70 17.82 L294.70 17.82 L295.70 17.82 L296.70 17.82 L297.70 17.82 L298.70 17.82 L299.70 17.82 L300.70 17.82 L301.70 17.81 L302.70 17.81 L303.70 17.81 L304.70 17.81 L305.70 17.81 L306.70 17.81 L307.70 17.81 L308.70 17.81 L309.70 17.81 L310.70 17.81 L311.70 17.81 L312.70 17.81 L313.70 17.81 L314.70 17.81 L315.70 17.81 L316.70 17.81 L317.70 17.81 L318.70 17.81 L319.70 17.81 L320.70 17.81 L321.70 17.81 L322.70 17.81 L323.70 17.81 L324.70 17.81 L325.70 17.81 L326.70 17.81 L327.70 17.81 L328.70 17.81 L329.70 17.81 L330.70 17.81 L331.70 17.81 L332.70 17.81 L333.70 17.81 L334.70 17.81 L335.70 17.81 L336.70 17.81 L337.70 17.81 L338.70 17.81 L339.70 17.81 L340.70 17.81 L341.70 17.81 L342.70 17.80 L343.70 17.80 L344.70 17.80 L345.70 17.80 L346.70 17.80 L347.70 17.80 L348.70 17.80 L349.70 17.80 L350.70 17.80 L351.70 17.80 L352.70 17.80 L353.70 17.80 L354.70 17.80 L355.70 17.80 L356.70 17.80 L357.70 17.80 L358.70 17.80 L359.70 17.80 L360.70 17.80 L361.70 17.80 L362.70 17.80 L363.70 17.80 L364.70 17.80 L365.70 17.80 L366.70 17.80 L367.70 17.80 L368.70 17.80 L369.70 17.80 L370.70 17.80 L371.70 17.80 L372.70 17.80 L373.70 17.80 L374.70 17.80 L375.70 17.80 L376.70 17.80 L377.70 17.80 L378.70 17.80 L379.70 17.80 L380.70 17.80 L381.70 17.80 L382.70 17.80 L383.70 17.80 L384.70 17.80 L385.70 17.80 L386.70 17.80 L387.70 17.80 L388.70 17.80 L389.70 17.80 L390.70 17.80 L391.70 17.80 L392.70 17.80 L393.70 17.80 L394.70 17.80 L395.70 17.80 L396.70 17.80 L397.70 17.80 L398.70 17.80 L399.70 17.80 L400.70 17.80 L401.70 17.80 L402.70 17.80 L403.70 17.80 L404.70 17.80 L405.70 17.80 L406.70 17.80 L407.70 17.80 L408.70 17.80 L409.70 17.80 L410.70 17.80 L411.70 17.80 L412.70 17.80 L413.70 17.80" stroke="#000" stroke-width="2.4" stroke-dasharray="7.5 5.6" stroke-dashoffset="7.2" stroke-linecap="round"/>
<path d="M63.60 26.50 L64.60 27.18 L65.60 27.85 L66.60 28.53 L67.30 29.00 L67.60 29.20 L68.60 29.87 L69.60 30.53 L70.60 31.19 L71.60 31.85 L72.60 32.51 L73.60 33.18 L74.60 33.85 L75.60 34.52 L76.60 35.21 L77.60 35.92 L78.00 36.20 L78.60 36.63 L79.60 37.36 L80.60 38.09 L81.61 38.83 L82.61 39.59 L83.61 40.35 L84.61 41.12 L85.61 41.90 L86.61 42.70 L87.61 43.50 L88.61 44.32 L88.70 44.40 L89.61 45.15 L90.61 46.00 L91.61 46.85 L92.61 47.72 L93.61 48.61 L94.61 49.53 L95.61 50.46 L96.61 51.42 L97.20 52.00 L97.61 52.41 L98.61 53.41 L99.61 54.43 L100.61 55.50 L101.61 56.62 L102.61 57.82 L103.30 58.70 L103.61 59.11 L104.61 60.50 L105.61 62.01 L106.61 63.67 L107.60 65.50 L107.61 65.52 L108.61 67.54 L109.61 70.04 L110.10 71.60 L110.61 73.99 L111.61 80.22 L111.80 81.30 L112.61 85.57 L113.40 90.00 L113.61 91.41 L114.61 98.99 L115.61 107.30 L115.70 108.00 L116.62 116.44 L117.10 120.00 L117.62 122.66 L118.62 126.56 L119.00 127.50 L119.62 128.58 L120.62 129.89 L121.62 130.84 L121.80 131.00 L122.62 131.61 L123.62 132.21 L124.62 132.77 L125.00 133.00 L125.62 133.38 L126.62 133.98 L127.62 134.58 L128.62 135.16 L129.62 135.75 L130.62 136.33 L131.62 136.92 L132.62 137.52 L133.62 138.12 L134.62 138.73 L135.62 139.37 L136.62 140.01 L137.20 140.40 L137.62 140.69 L138.62 141.39 L139.62 142.11 L140.62 142.86 L141.62 143.62 L142.62 144.40 L143.62 145.18 L144.62 145.96 L145.62 146.75 L146.62 147.52 L147.62 148.29 L148.62 149.03 L149.40 149.60 L149.62 149.76 L150.62 150.48 L151.63 151.20 L152.63 151.91 L153.63 152.62 L154.63 153.32 L155.63 154.02 L156.63 154.71 L157.63 155.39 L158.63 156.07 L159.63 156.74 L160.63 157.40 L161.63 158.05 L161.70 158.10 L162.63 158.70 L163.63 159.33 L164.63 159.96 L165.63 160.58 L166.63 161.19 L167.63 161.80 L168.63 162.40 L169.63 162.99 L170.63 163.59 L171.63 164.17 L172.63 164.76 L173.63 165.34 L173.90 165.50 L174.63 165.92 L175.63 166.49 L176.63 167.05 L177.63 167.60 L178.63 168.14 L179.63 168.69 L180.63 169.23 L181.63 169.79 L182.63 170.35 L183.63 170.92 L184.63 171.50 L184.80 171.60 L185.63 172.10 L186.64 172.72 L187.64 173.34 L188.64 173.98 L189.64 174.62 L190.64 175.27 L191.64 175.93 L192.64 176.58 L193.64 177.24 L194.64 177.89 L195.64 178.54 L196.64 179.18 L197.64 179.81 L198.60 180.40 L198.64 180.42 L199.64 181.03 L200.64 181.62 L201.64 182.21 L202.64 182.80 L203.64 183.39 L204.50 183.90 L204.64 183.98 L205.64 184.58 L206.64 185.19 L207.64 185.79 L208.64 186.41 L209.64 187.02 L210.64 187.64 L211.64 188.26 L212.64 188.88 L213.64 189.50 L214.64 190.12 L215.64 190.74 L216.64 191.36 L217.64 191.97 L218.64 192.58 L219.64 193.19 L220.64 193.79 L221.65 194.39 L222.65 194.98 L223.65 195.57 L224.65 196.14 L225.65 196.71 L226.65 197.27 L227.65 197.82 L228.65 198.36 L229.10 198.60 L229.65 198.89 L230.65 199.41 L231.65 199.92 L232.65 200.43 L233.65 200.94 L234.65 201.43 L235.65 201.92 L236.65 202.41 L237.65 202.89 L238.65 203.37 L239.65 203.85 L240.65 204.32 L241.65 204.78 L242.65 205.25 L243.65 205.71 L244.65 206.17 L245.65 206.62 L246.65 207.08 L247.65 207.53 L248.65 207.98 L249.65 208.43 L250.65 208.88 L251.65 209.33 L252.65 209.78 L253.60 210.20 L253.65 210.22 L254.65 210.67 L255.65 211.12 L256.66 211.56 L257.66 212.00 L258.66 212.44 L259.66 212.88 L260.66 213.32 L261.66 213.75 L262.66 214.18 L263.66 214.61 L264.66 215.04 L265.66 215.47 L266.66 215.89 L267.66 216.32 L268.66 216.74 L269.66 217.16 L270.66 217.58 L271.66 218.00 L272.66 218.41 L273.66 218.83 L274.66 219.24 L275.66 219.66 L276.66 220.07 L277.66 220.48 L278.20 220.70 L278.66 220.89 L279.66 221.30 L280.66 221.70 L281.66 222.11 L282.66 222.51 L283.66 222.91 L284.66 223.31 L285.66 223.71 L286.66 224.11 L287.66 224.51 L288.66 224.90 L289.66 225.30 L290.66 225.69 L291.67 226.08 L292.67 226.47 L293.67 226.86 L294.67 227.25 L295.67 227.63 L296.67 228.02 L297.67 228.40 L298.67 228.79 L299.67 229.17 L300.00 229.30 L300.67 229.56 L301.67 229.94 L302.67 230.32 L303.67 230.69 L304.67 231.07 L305.67 231.44 L306.67 231.82 L307.67 232.19 L308.67 232.56 L309.67 232.93 L310.67 233.30 L311.67 233.67 L312.67 234.04 L313.67 234.41 L314.67 234.78 L315.67 235.15 L316.67 235.51 L317.67 235.88 L318.67 236.25 L319.67 236.62 L320.67 236.99 L321.67 237.36 L322.67 237.72 L323.67 238.09 L324.50 238.40 L324.67 238.46 L325.67 238.84 L326.68 239.21 L327.68 239.58 L328.68 239.96 L329.68 240.33 L330.68 240.71 L331.68 241.08 L332.68 241.46 L333.68 241.84 L334.68 242.21 L335.68 242.59 L336.68 242.96 L337.68 243.34 L338.68 243.71 L339.68 244.08 L340.68 244.45 L341.68 244.82 L342.68 245.19 L343.68 245.56 L344.68 245.92 L345.68 246.28 L346.68 246.64 L347.68 247.00 L348.68 247.35 L349.10 247.50 L349.68 247.70 L350.68 248.05 L351.68 248.40 L352.68 248.75 L353.68 249.09 L354.68 249.43 L355.68 249.77 L356.68 250.11 L357.68 250.45 L358.68 250.78 L359.68 251.12 L360.68 251.45 L361.69 251.78 L362.69 252.12 L363.69 252.45 L364.69 252.78 L365.69 253.11 L366.69 253.43 L367.69 253.76 L368.69 254.09 L369.69 254.42 L370.69 254.75 L371.69 255.07 L372.69 255.40 L373.60 255.70 L373.69 255.73 L374.69 256.06 L375.69 256.38 L376.69 256.71 L377.69 257.04 L378.69 257.37 L379.69 257.69 L380.69 258.02 L381.69 258.35 L382.69 258.67 L383.69 259.00 L384.69 259.32 L385.69 259.65 L386.69 259.97 L387.69 260.29 L388.69 260.61 L389.69 260.93 L390.69 261.25 L391.69 261.57 L392.69 261.88 L393.69 262.20 L394.69 262.51 L395.69 262.82 L396.70 263.14 L397.70 263.44 L398.20 263.60 L398.70 263.75 L399.70 264.06 L400.70 264.36 L401.70 264.67 L402.70 264.97 L403.70 265.27 L404.70 265.57 L405.70 265.86 L406.70 266.16 L407.70 266.46 L408.70 266.75 L409.70 267.04 L410.70 267.33 L411.70 267.62 L412.70 267.91 L413.70 268.20" stroke="#ff00ff" stroke-width="2.6" stroke-dasharray="7.05 6.0" stroke-dashoffset="8.95" stroke-linecap="round"/>
<path d="M62.70 42.20 L63.70 41.88 L64.70 41.58 L65.70 41.30 L66.70 41.06 L67.70 40.85 L68.00 40.80 L68.70 40.68 L69.70 40.50 L70.70 40.33 L71.70 40.20 L72.70 40.12 L73.40 40.10 L73.70 40.10 L74.70 40.12 L75.70 40.14 L76.70 40.19 L77.70 40.23 L78.70 40.28 L79.00 40.30 L79.70 40.34 L80.70 40.41 L81.70 40.50 L82.70 40.60 L83.70 40.72 L84.40 40.80 L84.70 40.84 L85.70 40.98 L86.70 41.15 L87.70 41.33 L88.70 41.52 L89.70 41.73 L90.50 41.90 L90.70 41.94 L91.70 42.16 L92.70 42.39 L93.70 42.63 L94.70 42.89 L95.70 43.18 L96.70 43.50 L97.70 43.86 L98.70 44.27 L99.70 44.72 L100.70 45.23 L101.70 45.80 L102.70 46.43 L102.80 46.50 L103.70 47.19 L104.70 48.14 L105.50 49.00 L105.70 49.23 L106.70 50.49 L107.70 52.00 L108.70 53.73 L109.70 55.87 L110.10 56.90 L110.70 58.85 L111.20 61.00 L111.70 64.04 L112.50 70.30 L112.70 71.97 L113.70 81.30 L114.60 90.00 L114.70 90.73 L115.70 96.70 L116.10 99.00 L116.70 102.49 L117.60 108.30 L117.70 109.13 L118.70 120.71 L119.40 126.70 L119.70 127.85 L120.70 130.54 L121.30 131.60 L121.70 132.20 L122.70 133.46 L123.70 134.46 L124.70 135.28 L125.00 135.50 L125.70 135.98 L126.70 136.59 L127.70 137.12 L128.70 137.61 L129.70 138.08 L130.70 138.59 L131.10 138.80 L131.70 139.13 L132.70 139.66 L133.70 140.20 L134.70 140.74 L135.70 141.31 L136.70 141.89 L137.20 142.20 L137.70 142.52 L138.70 143.17 L139.70 143.86 L140.70 144.58 L141.70 145.31 L142.70 146.05 L143.30 146.50 L143.70 146.80 L144.70 147.56 L145.70 148.34 L146.70 149.13 L147.70 149.94 L148.70 150.79 L149.40 151.40 L149.70 151.67 L150.70 152.59 L151.70 153.54 L152.70 154.53 L153.70 155.54 L154.70 156.57 L155.60 157.50 L155.70 157.60 L156.70 158.65 L157.70 159.73 L158.70 160.82 L159.70 161.93 L160.70 163.06 L161.70 164.20 L162.70 165.37 L163.70 166.58 L164.70 167.80 L165.70 169.03 L166.70 170.26 L167.70 171.48 L167.80 171.60 L168.70 172.68 L169.70 173.86 L170.70 175.05 L171.70 176.23 L172.70 177.43 L173.70 178.65 L173.90 178.90 L174.70 179.90 L175.70 181.15 L176.70 182.42 L177.70 183.71 L178.70 185.00 L179.70 186.30 L180.70 187.60 L181.70 188.92 L182.70 190.23 L183.70 191.54 L184.70 192.85 L185.50 193.90 L185.70 194.16 L186.70 195.49 L187.70 196.83 L188.70 198.18 L189.70 199.53 L190.70 200.87 L191.70 202.19 L192.70 203.48 L193.60 204.60 L193.70 204.72 L194.70 205.94 L195.70 207.13 L196.70 208.31 L197.70 209.48 L198.70 210.62 L199.70 211.75 L200.70 212.87 L201.70 213.97 L202.70 215.06 L203.70 216.14 L204.50 217.00 L204.70 217.21 L205.70 218.27 L206.70 219.32 L207.70 220.35 L208.70 221.37 L209.70 222.38 L210.70 223.39 L211.70 224.38 L212.70 225.36 L213.70 226.34 L214.70 227.30 L215.70 228.26 L216.70 229.21 L216.80 229.30 L217.70 230.15 L218.70 231.09 L219.70 232.02 L220.70 232.94 L221.70 233.86 L222.70 234.77 L223.70 235.67 L224.70 236.55 L225.70 237.43 L226.70 238.29 L227.70 239.14 L228.70 239.97 L229.10 240.30 L229.70 240.79 L230.70 241.59 L231.70 242.39 L232.70 243.17 L233.70 243.94 L234.70 244.71 L235.70 245.46 L236.70 246.20 L237.70 246.93 L238.70 247.66 L239.70 248.37 L240.70 249.08 L241.30 249.50 L241.70 249.78 L242.70 250.47 L243.70 251.15 L244.70 251.82 L245.70 252.48 L246.70 253.13 L247.70 253.78 L248.70 254.42 L249.70 255.06 L250.70 255.69 L251.70 256.32 L252.70 256.94 L253.60 257.50 L253.70 257.56 L254.70 258.18 L255.70 258.79 L256.70 259.39 L257.70 259.99 L258.70 260.59 L259.70 261.18 L260.70 261.77 L261.70 262.36 L262.70 262.94 L263.70 263.52 L264.70 264.10 L265.70 264.68 L265.90 264.80 L266.70 265.27 L267.70 265.85 L268.70 266.43 L269.70 267.02 L270.70 267.60 L271.70 268.18 L272.70 268.75 L273.70 269.32 L274.70 269.89 L275.70 270.44 L276.70 270.99 L277.70 271.53 L278.20 271.80 L278.70 272.06 L279.70 272.59 L280.70 273.10 L281.70 273.62 L282.70 274.12 L283.70 274.62 L284.70 275.11 L285.70 275.60 L286.70 276.09 L287.70 276.57 L288.70 277.05 L289.70 277.53 L290.70 278.00 L291.70 278.47 L292.70 278.94 L293.70 279.40 L294.70 279.86 L295.70 280.31 L296.70 280.76 L297.70 281.20 L298.70 281.64 L299.70 282.07 L300.00 282.20 L300.70 282.50 L301.70 282.92 L302.70 283.35 L303.70 283.76 L304.70 284.18 L305.70 284.59 L306.70 284.99 L307.70 285.39 L308.70 285.78 L309.70 286.17 L310.70 286.55 L311.10 286.70 L311.70 286.92 L312.70 287.29 L313.70 287.64 L314.70 288.00 L315.70 288.34 L316.70 288.69 L317.70 289.02 L318.70 289.36 L319.70 289.69 L320.70 290.03 L321.70 290.36 L322.70 290.70 L323.70 291.03 L324.50 291.30 L324.70 291.37 L325.70 291.70 L326.70 292.04 L327.70 292.38 L328.70 292.71 L329.70 293.04 L330.70 293.37 L331.70 293.71 L332.70 294.04 L333.70 294.37 L334.70 294.70 L335.70 295.03 L336.70 295.37 L336.80 295.40 L337.70 295.70 L338.70 296.04 L339.70 296.38 L340.70 296.72 L341.70 297.07 L342.70 297.41 L343.70 297.75 L344.70 298.08 L345.70 298.42 L346.70 298.74 L347.70 299.06 L348.70 299.38 L349.10 299.50 L349.70 299.68 L350.70 299.99 L351.70 300.29 L352.70 300.59 L353.70 300.89 L354.70 301.19 L355.70 301.48 L356.70 301.77 L357.70 302.06 L358.70 302.35 L359.70 302.64 L360.70 302.92 L361.70 303.20 L362.70 303.48 L363.70 303.75 L364.70 304.02 L365.70 304.29 L366.70 304.56 L367.70 304.82 L368.70 305.08 L369.70 305.34 L370.70 305.59 L371.70 305.84 L372.70 306.08 L373.60 306.30 L373.70 306.32 L374.70 306.56 L375.70 306.80 L376.70 307.03 L377.70 307.26 L378.70 307.48 L379.70 307.70 L380.70 307.92 L381.70 308.14 L382.70 308.36 L383.70 308.57 L384.70 308.78 L385.70 308.99 L386.70 309.20 L387.70 309.40 L388.70 309.61 L389.70 309.81 L390.70 310.01 L391.70 310.21 L392.70 310.41 L393.70 310.61 L394.70 310.81 L395.70 311.01 L396.70 311.20 L397.70 311.40 L398.20 311.50 L398.70 311.60 L399.70 311.79 L400.70 311.99 L401.70 312.18 L402.70 312.37 L403.70 312.56 L404.70 312.75 L405.70 312.94 L406.70 313.13 L407.70 313.31 L408.70 313.50 L409.70 313.68 L410.70 313.86 L411.70 314.04 L412.70 314.22 L413.70 314.40" stroke="#808080" stroke-width="2.4"/>
<path d="M63.70 179.40 L64.70 178.86 L65.70 178.33 L66.70 177.81 L67.70 177.31 L68.70 176.82 L69.70 176.34 L70.70 175.89 L71.70 175.45 L72.30 175.20 L72.70 175.04 L73.70 174.65 L74.70 174.28 L75.70 173.94 L76.70 173.60 L77.70 173.28 L78.70 172.96 L79.70 172.63 L80.70 172.30 L81.70 171.96 L82.70 171.60 L83.70 171.22 L84.50 170.90 L84.70 170.82 L85.70 170.39 L86.70 169.96 L87.70 169.51 L88.70 169.06 L89.70 168.58 L90.70 168.09 L91.70 167.58 L92.70 167.06 L93.70 166.52 L94.70 165.95 L95.70 165.37 L96.70 164.76 L96.80 164.70 L97.70 164.11 L98.70 163.40 L99.70 162.63 L100.70 161.84 L101.70 161.02 L102.70 160.20 L103.70 159.39 L104.20 159.00 L104.70 158.60 L105.70 157.73 L106.70 156.83 L107.70 155.95 L108.70 155.15 L109.70 154.50 L110.30 154.20 L110.70 154.03 L111.70 153.63 L112.70 153.29 L113.70 153.03 L114.50 152.90 L114.70 152.88 L115.70 152.77 L116.70 152.69 L117.70 152.63 L118.70 152.60 L118.90 152.60 L119.70 152.66 L120.70 152.90 L121.70 153.24 L122.70 153.66 L123.70 154.09 L124.50 154.40 L124.70 154.47 L125.70 154.85 L126.70 155.23 L127.70 155.63 L128.70 156.05 L129.70 156.47 L130.70 156.91 L131.70 157.35 L132.70 157.81 L133.70 158.28 L134.70 158.76 L135.70 159.25 L136.70 159.75 L137.20 160.00 L137.70 160.26 L138.70 160.79 L139.70 161.34 L140.70 161.90 L141.70 162.49 L142.70 163.08 L143.70 163.69 L144.70 164.31 L145.70 164.94 L146.70 165.57 L147.70 166.21 L148.70 166.85 L149.40 167.30 L149.70 167.49 L150.70 168.14 L151.70 168.80 L152.70 169.47 L153.70 170.15 L154.70 170.83 L155.70 171.53 L156.70 172.22 L157.70 172.93 L158.70 173.64 L159.70 174.36 L160.70 175.08 L161.70 175.80 L162.70 176.54 L163.70 177.32 L164.70 178.11 L165.70 178.90 L166.70 179.68 L167.70 180.43 L168.70 181.13 L169.10 181.40 L169.70 181.79 L170.70 182.42 L171.70 183.03 L172.70 183.62 L173.70 184.20 L174.70 184.76 L175.70 185.31 L176.70 185.85 L177.70 186.39 L178.70 186.92 L179.70 187.45 L180.70 187.98 L181.70 188.51 L182.70 189.05 L183.70 189.59 L184.70 190.15 L185.50 190.60 L185.70 190.71 L186.70 191.29 L187.70 191.86 L188.70 192.44 L189.70 193.02 L190.70 193.61 L191.70 194.19 L192.70 194.78 L193.70 195.37 L194.70 195.95 L195.70 196.54 L196.70 197.12 L197.70 197.71 L198.70 198.29 L199.70 198.87 L200.70 199.45 L201.70 200.03 L202.70 200.60 L203.70 201.17 L204.70 201.74 L205.70 202.30 L206.70 202.86 L207.70 203.42 L208.70 203.98 L209.70 204.54 L210.70 205.10 L211.70 205.65 L212.70 206.21 L213.70 206.77 L214.70 207.33 L215.70 207.89 L216.70 208.45 L217.70 209.01 L218.70 209.57 L219.10 209.80 L219.70 210.14 L220.70 210.71 L221.70 211.28 L222.70 211.86 L223.70 212.43 L224.70 213.01 L225.70 213.59 L226.70 214.17 L227.70 214.75 L228.70 215.32 L229.70 215.90 L230.70 216.47 L231.70 217.05 L232.70 217.62 L233.70 218.19 L234.70 218.75 L235.50 219.20 L235.70 219.31 L236.70 219.87 L237.70 220.44 L238.70 221.00 L239.70 221.57 L240.70 222.13 L241.70 222.69 L242.70 223.25 L243.70 223.81 L244.70 224.37 L245.70 224.92 L246.70 225.47 L247.70 226.02 L248.70 226.56 L249.70 227.09 L250.70 227.62 L251.70 228.14 L252.70 228.65 L253.60 229.10 L253.70 229.15 L254.70 229.65 L255.70 230.14 L256.70 230.63 L257.70 231.12 L258.70 231.60 L259.70 232.08 L260.70 232.55 L261.70 233.02 L262.70 233.49 L263.70 233.95 L264.70 234.41 L265.70 234.87 L266.70 235.32 L267.70 235.78 L268.70 236.22 L269.70 236.67 L270.70 237.11 L271.70 237.54 L272.70 237.97 L273.70 238.40 L274.70 238.83 L275.70 239.26 L276.70 239.68 L277.70 240.09 L278.20 240.30 L278.70 240.51 L279.70 240.91 L280.70 241.32 L281.70 241.71 L282.70 242.10 L283.70 242.49 L284.70 242.87 L285.70 243.25 L286.70 243.63 L287.70 244.00 L288.70 244.38 L289.70 244.75 L290.70 245.12 L291.70 245.49 L292.70 245.86 L293.70 246.23 L294.70 246.60 L295.70 246.97 L296.70 247.34 L297.70 247.72 L298.70 248.10 L299.70 248.48 L300.00 248.60 L300.70 248.87 L301.70 249.26 L302.70 249.65 L303.70 250.05 L304.70 250.44 L305.70 250.84 L306.70 251.24 L307.70 251.64 L308.70 252.04 L309.70 252.44 L310.70 252.84 L311.70 253.24 L312.70 253.64 L313.70 254.04 L314.70 254.44 L315.70 254.84 L316.70 255.23 L317.70 255.62 L318.70 256.01 L319.70 256.40 L320.70 256.78 L321.70 257.16 L322.70 257.54 L323.70 257.91 L324.50 258.20 L324.70 258.27 L325.70 258.64 L326.70 259.00 L327.70 259.35 L328.70 259.71 L329.70 260.06 L330.70 260.40 L331.70 260.75 L332.70 261.10 L333.70 261.44 L334.70 261.78 L335.70 262.12 L336.70 262.46 L337.70 262.79 L338.70 263.13 L339.70 263.46 L340.70 263.80 L341.70 264.13 L342.70 264.46 L343.70 264.80 L344.70 265.13 L345.70 265.46 L346.70 265.80 L347.70 266.13 L348.70 266.47 L349.10 266.60 L349.70 266.80 L350.70 267.14 L351.70 267.48 L352.70 267.82 L353.70 268.16 L354.70 268.50 L355.70 268.84 L356.70 269.18 L357.70 269.52 L358.70 269.86 L359.70 270.20 L360.70 270.54 L361.70 270.87 L362.70 271.21 L363.70 271.54 L364.70 271.87 L365.70 272.20 L366.70 272.53 L367.70 272.86 L368.70 273.18 L369.70 273.49 L370.70 273.81 L371.70 274.12 L372.70 274.43 L373.60 274.70 L373.70 274.73 L374.70 275.03 L375.70 275.32 L376.70 275.62 L377.70 275.91 L378.70 276.19 L379.70 276.47 L380.70 276.76 L381.70 277.03 L382.70 277.31 L383.70 277.59 L384.70 277.86 L385.70 278.13 L386.70 278.40 L387.70 278.67 L388.70 278.94 L389.70 279.21 L390.70 279.48 L391.70 279.74 L392.70 280.01 L393.70 280.28 L394.70 280.55 L395.70 280.82 L396.70 281.09 L397.70 281.36 L398.20 281.50 L398.70 281.64 L399.70 281.91 L400.70 282.18 L401.70 282.45 L402.70 282.73 L403.70 283.00 L404.70 283.27 L405.70 283.54 L406.70 283.81 L407.70 284.08 L408.70 284.35 L409.70 284.62 L410.70 284.89 L411.70 285.16 L412.70 285.43 L413.70 285.70" stroke="#000" stroke-width="2.4" stroke-dasharray="0.01 3.6" stroke-linecap="round"/>
</g>
<path d="M63.6 379.85 V-0.05 H413.6" stroke="#000" stroke-width="1.05" fill="none" stroke-linejoin="miter"/>
<path d="M63.0 379.85 H413.6" stroke="#000" stroke-width="1.05" fill="none"/>
<path d="M413.6 -0.65 V380.45000000000005" stroke="#808080" stroke-width="1.4" fill="none"/>
<text x="63.5" y="401.6" font-size="15" fill="#000" class="d" text-anchor="middle">0</text>
<text x="151.0" y="401.6" font-size="15" fill="#000" class="d" text-anchor="middle">1</text>
<text x="238.5" y="401.6" font-size="15" fill="#000" class="d" text-anchor="middle">2</text>
<text x="326.0" y="401.6" font-size="15" fill="#000" class="d" text-anchor="middle">3</text>
<text x="413.5" y="401.6" font-size="15" fill="#000" class="d" text-anchor="middle">4</text>
<text x="54.2" y="14.8" font-size="15" fill="#000" class="d" text-anchor="end">1</text>
<text x="38.4" y="70.8" font-size="15" fill="#000" class="d" text-anchor="end">10</text>
<text x="39.0" y="61.5" font-size="10.5" fill="#000" class="d" stroke="#000" stroke-width="0.4">−2</text>
<text x="38.4" y="127.6" font-size="15" fill="#000" class="d" text-anchor="end">10</text>
<text x="39.0" y="118.3" font-size="10.5" fill="#000" class="d" stroke="#000" stroke-width="0.4">−4</text>
<text x="38.4" y="184.5" font-size="15" fill="#000" class="d" text-anchor="end">10</text>
<text x="39.0" y="175.2" font-size="10.5" fill="#000" class="d" stroke="#000" stroke-width="0.4">−6</text>
<text x="38.4" y="241.3" font-size="15" fill="#000" class="d" text-anchor="end">10</text>
<text x="39.0" y="232.0" font-size="10.5" fill="#000" class="d" stroke="#000" stroke-width="0.4">−8</text>
<text x="32.0" y="298.2" font-size="15" fill="#000" class="d" text-anchor="end">10</text>
<text x="32.6" y="288.9" font-size="10.5" fill="#000" class="d" stroke="#000" stroke-width="0.4">−10</text>
<text x="32.0" y="355.0" font-size="15" fill="#000" class="d" text-anchor="end">10</text>
<text x="32.6" y="345.7" font-size="10.5" fill="#000" class="d" stroke="#000" stroke-width="0.4">−12</text>
<text x="423.4" y="105.8" font-size="15" fill="#808080" class="d" textLength="38.4" lengthAdjust="spacingAndGlyphs">1000</text>
<text x="423.4" y="248.8" font-size="15" fill="#808080" class="d" textLength="28.8" lengthAdjust="spacingAndGlyphs">100</text>
<text x="69.2" y="423.2" font-size="12.7" fill="#000" textLength="7.0" lengthAdjust="spacingAndGlyphs">A</text>
<text x="77.6" y="426.3" font-size="8.5" fill="#000" textLength="5.0" lengthAdjust="spacingAndGlyphs" stroke="#000" stroke-width="0.3">V</text>
<text x="83.5" y="423.2" font-size="12.7" fill="#000">,</text>
<text x="94.6" y="423.2" font-size="12.7" fill="#000" textLength="40.4" lengthAdjust="spacingAndGlyphs">Depth</text>
<text x="143.9" y="423.2" font-size="12.7" fill="#000" textLength="26.6" lengthAdjust="spacingAndGlyphs">into</text>
<text x="180.0" y="423.2" font-size="12.7" fill="#000" textLength="22.3" lengthAdjust="spacingAndGlyphs">the</text>
<text x="209.7" y="423.2" font-size="12.7" fill="#000" textLength="39.2" lengthAdjust="spacingAndGlyphs">Cloud</text>
<text x="257.4" y="423.2" font-size="12.7" fill="#000" textLength="12.6" lengthAdjust="spacingAndGlyphs">in</text>
<text x="277.2" y="423.2" font-size="12.7" fill="#000" textLength="41.9" lengthAdjust="spacingAndGlyphs">Visual</text>
<text x="328.4" y="423.2" font-size="12.7" fill="#000" textLength="79.4" lengthAdjust="spacingAndGlyphs">Magnitudes</text>
<g transform="translate(10.6,272.1) rotate(-90)">
<text x="0.0" y="0.0" font-size="12.7" fill="#000" textLength="84.2" lengthAdjust="spacingAndGlyphs">Abundances</text>
<text x="92.6" y="0.0" font-size="12.7" fill="#000" textLength="22.4" lengthAdjust="spacingAndGlyphs">wrt</text>
<text x="122.6" y="0.0" font-size="12.7" fill="#000" textLength="12.0" lengthAdjust="spacingAndGlyphs">H</text>
<text x="140.8" y="0.0" font-size="12.7" fill="#000" textLength="42.9" lengthAdjust="spacingAndGlyphs">nuclei</text>
</g>
<g transform="translate(479.3,88.6) rotate(90)">
<text x="0.0" y="0.0" font-size="13.2" fill="#808080" textLength="25.0" lengthAdjust="spacingAndGlyphs" stroke="#808080" stroke-width="0.45">Gas</text>
<text x="33.6" y="0.0" font-size="13.2" fill="#808080" textLength="89.8" lengthAdjust="spacingAndGlyphs" stroke="#808080" stroke-width="0.45">temperature</text>
<text x="132.0" y="0.0" font-size="13.2" fill="#808080" textLength="19.4" lengthAdjust="spacingAndGlyphs" stroke="#808080" stroke-width="0.45">(K)</text>
</g>
<text x="323.1" y="36.8" font-size="12" fill="#000" textLength="9.0" lengthAdjust="spacingAndGlyphs" stroke="#000" stroke-width="0.45">H</text>
<text x="346.0" y="36.8" font-size="12" fill="#000" textLength="40.4" lengthAdjust="spacingAndGlyphs" stroke="#000" stroke-width="0.45">(total)</text>
<text x="332.8" y="39.8" font-size="8.5" fill="#000" class="d" stroke="#000" stroke-width="0.4">2</text>
<g transform="translate(154.7,48.8) rotate(34.7)">
<text x="0.0" y="0.0" font-size="15" fill="#00ff00" textLength="13.3" lengthAdjust="spacingAndGlyphs" stroke="#00ff00" stroke-width="0.2">H</text>
<text x="19.8" y="0.0" font-size="15" fill="#00ff00" textLength="50.5" lengthAdjust="spacingAndGlyphs" stroke="#00ff00" stroke-width="0.2">atoms</text>
</g>
<text x="350.8" y="142.4" font-size="15.5" fill="#0000ff">S</text>
<path d="M286.4 182.3 H312.5" stroke="#ff0000" stroke-width="1.1"/>
<text x="316.5" y="186.5" font-size="15.5" fill="#ff0000">S</text>
<text x="326.6" y="177.0" font-size="11" fill="#ff0000" class="d">+</text>
<g transform="translate(244.6,193.2) rotate(23.6)">
<text x="0.0" y="0.0" font-size="12.5" fill="#ff00ff" textLength="5.2" lengthAdjust="spacingAndGlyphs" stroke="#ff00ff" stroke-width="0.4">f</text>
<text x="4.0" y="3.6" font-size="8.2" fill="#ff00ff" class="d" textLength="11.5" lengthAdjust="spacingAndGlyphs" stroke="#ff00ff" stroke-width="0.45">H2</text>
<text x="17.2" y="0.0" font-size="12.8" fill="#ff00ff" textLength="35.5" lengthAdjust="spacingAndGlyphs" stroke="#ff00ff" stroke-width="0.4">(v≳2)</text>
</g>
<path d="M116.4 157.2 V186.3" stroke="#808080" stroke-width="1.5"/>
<text x="81.8" y="202.3" font-size="13" fill="#000" textLength="9.2" lengthAdjust="spacingAndGlyphs" stroke="#000" stroke-width="0.45">H</text>
<text x="97.5" y="202.3" font-size="13" fill="#000" textLength="34.9" lengthAdjust="spacingAndGlyphs" stroke="#000" stroke-width="0.45">(v=2)</text>
<text x="91.6" y="205.3" font-size="8.5" fill="#000" class="d" stroke="#000" stroke-width="0.4">2</text>
<text x="152.8" y="250.4" font-size="15.5" fill="#ff00ff" textLength="21.8" lengthAdjust="spacingAndGlyphs">SH</text>
<text x="174.8" y="241.3" font-size="11" fill="#ff00ff" class="d">+</text>
<path d="M274.4 301.9 L298.9 285" stroke="#808080" stroke-width="0.8"/>
<text x="253.3" y="309.4" font-size="15" fill="#808080" textLength="8.6" lengthAdjust="spacingAndGlyphs" stroke="#808080" stroke-width="0.2">T</text>
<text x="262.4" y="313.3" font-size="11.5" fill="#808080" textLength="19.5" lengthAdjust="spacingAndGlyphs" stroke="#808080" stroke-width="0.35">gas</text>
</svg>
</body></html>
